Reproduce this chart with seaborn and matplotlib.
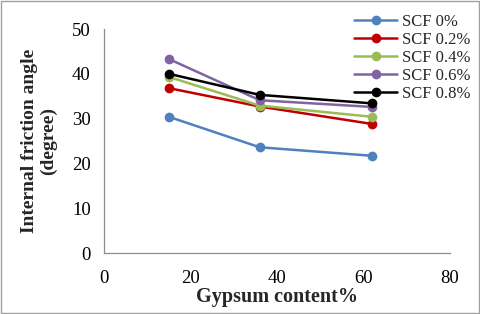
import matplotlib
matplotlib.use("Agg")
import matplotlib.pyplot as plt
import seaborn as sns
import pandas as pd
from matplotlib.patches import Rectangle

gypsum = [15, 36, 62]
series_names = ["SCF 0%", "SCF 0.2%", "SCF 0.4%", "SCF 0.6%", "SCF 0.8%"]
scf_0 = [30.4, 23.6, 21.7]
scf_02 = [36.8, 32.7, 28.8]
scf_04 = [39.3, 32.9, 30.4]
scf_06 = [43.3, 34.1, 32.6]
scf_08 = [40.0, 35.3, 33.4]
colors = ["#4F81BD", "#C00000", "#9BBB59", "#8064A2", "#000000"]

rows = []
for name, vals in zip(series_names, [scf_0, scf_02, scf_04, scf_06, scf_08]):
    for x, y in zip(gypsum, vals):
        rows.append({"Gypsum": x, "Angle": y, "Series": name})
df = pd.DataFrame(rows)

sns.set_theme(style="white")
plt.rcParams["font.family"] = ["Liberation Serif", "DejaVu Serif"]

fig = plt.figure(figsize=(4.8, 3.14), dpi=100)
ax = fig.add_axes([104/480, 1 - 253/314, (450-104)/480, (253-29)/314])

sns.lineplot(data=df, x="Gypsum", y="Angle", hue="Series", palette=colors,
             hue_order=series_names, marker="o", markersize=7, markeredgewidth=0,
             linewidth=1.8, ax=ax, legend=True)

ax.set_xlim(0, 80)
ax.set_ylim(0, 50)
ax.set_xticks([0, 20, 40, 60, 80])
ax.set_yticks([0, 10, 20, 30, 40, 50])
ax.tick_params(axis="both", labelsize=13.5, colors="#000000", length=4.5, width=0.8)
ax.tick_params(axis="y", direction="out", pad=5)
ax.tick_params(axis="x", direction="in", pad=12)
for s in ["top", "right"]:
    ax.spines[s].set_visible(False)
for s in ["left", "bottom"]:
    ax.spines[s].set_color("#8c8c8c")
    ax.spines[s].set_linewidth(0.9)
ax.tick_params(color="#8c8c8c")

ax.set_xlabel("Gypsum content%", fontsize=14.5, fontweight="bold", labelpad=0)
ax.set_ylabel("Internal friction angle\n(degree)", fontsize=14, fontweight="bold", labelpad=11, linespacing=1.1)

leg = ax.legend(loc="upper left", bbox_to_anchor=(354/480, 1 - 14/314), bbox_transform=fig.transFigure,
                frameon=False, fontsize=12, handlelength=2.6, handletextpad=0.25,
                labelspacing=0.12, borderaxespad=0, borderpad=0)

fig.patches.append(Rectangle((0.002, 0.003), 0.995, 0.994, transform=fig.transFigure,
                             fill=False, edgecolor="#a0a0a0", linewidth=1.0))

fig.savefig("out.png", dpi=100)
